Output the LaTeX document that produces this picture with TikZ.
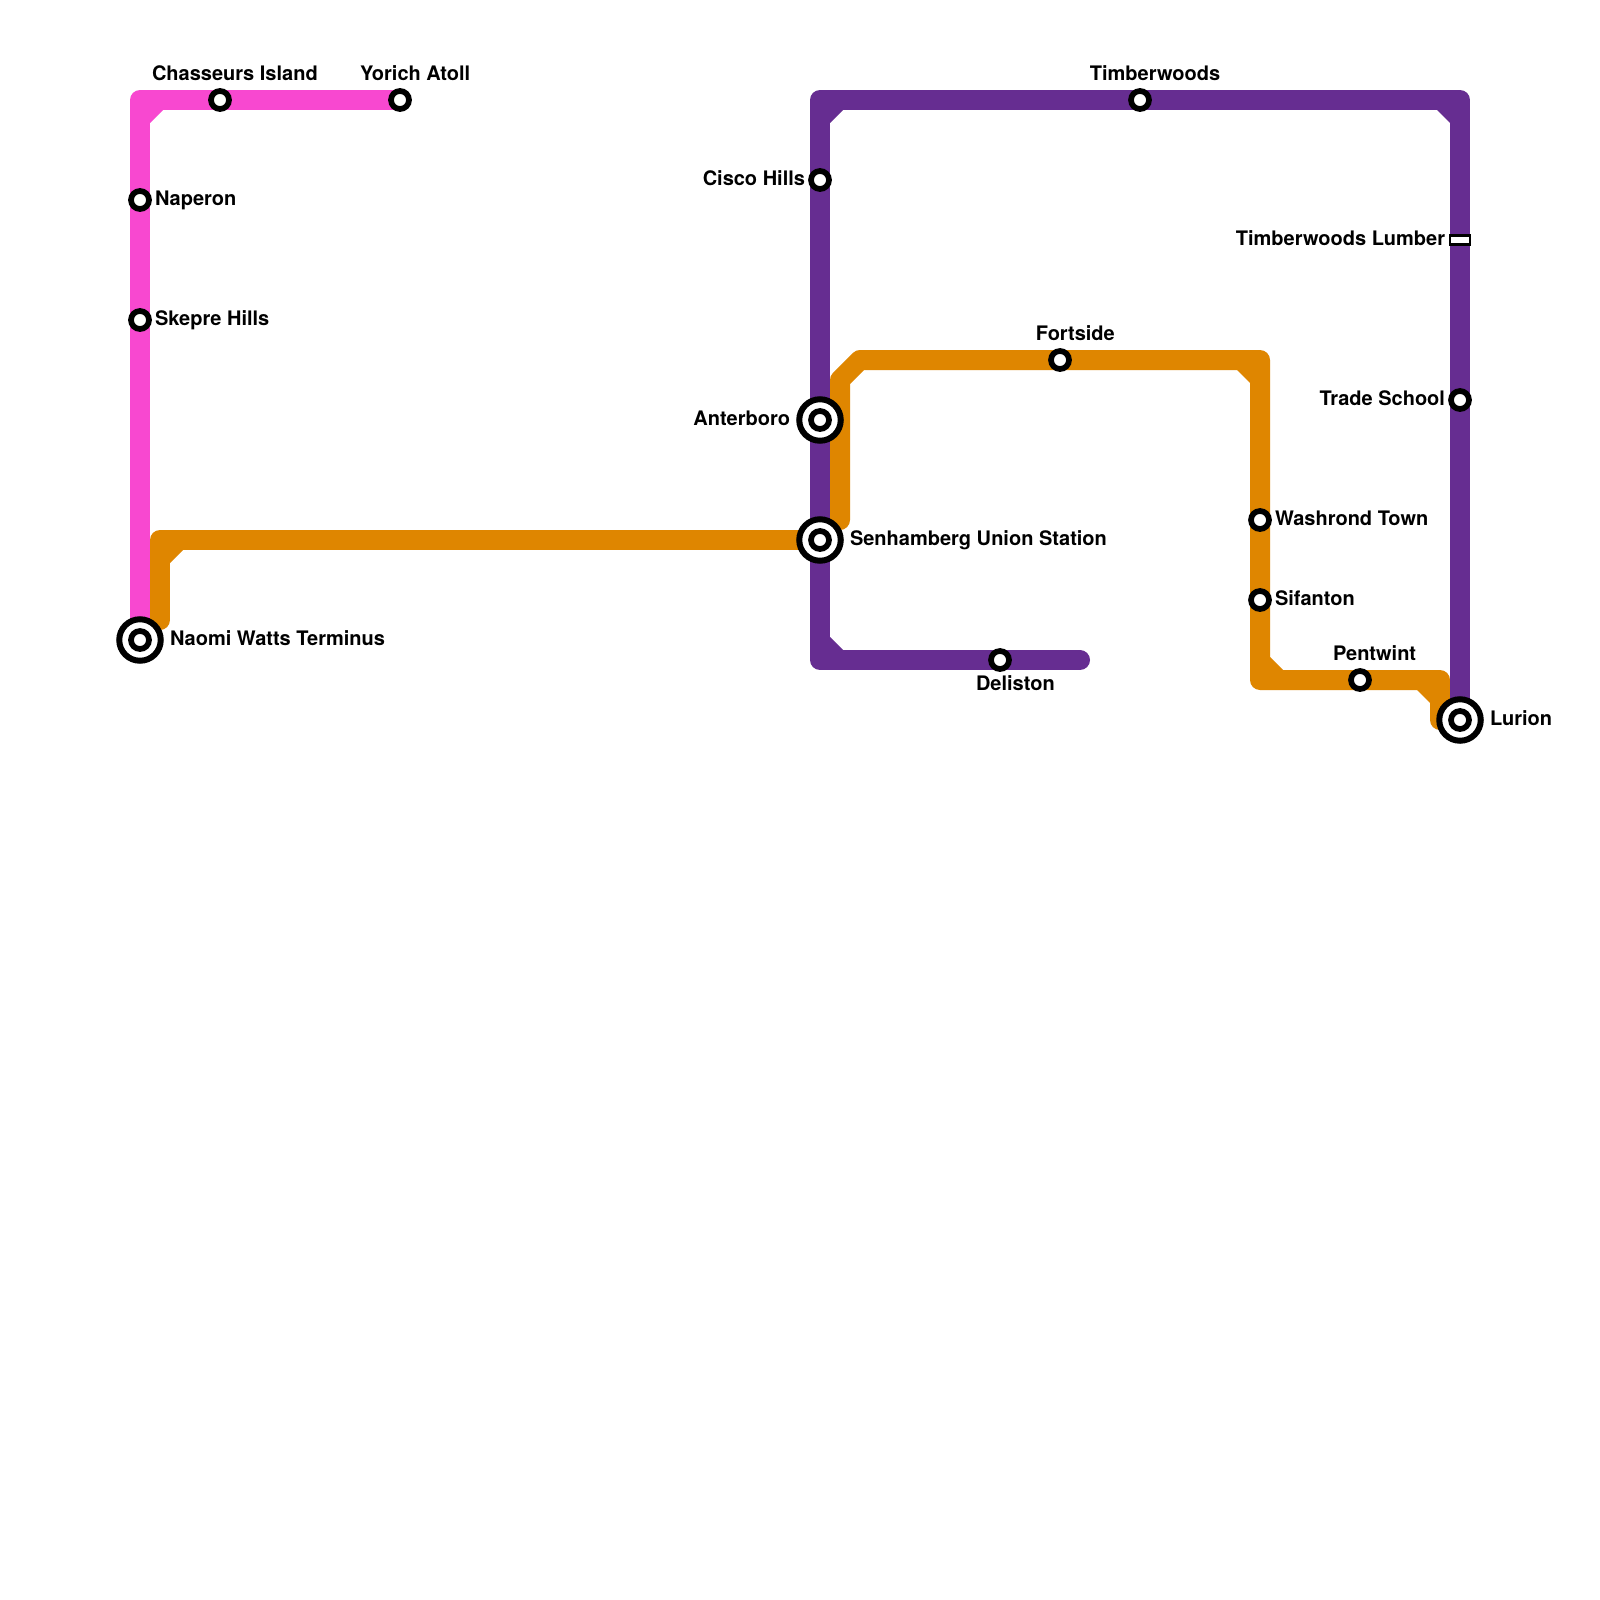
\documentclass[tikz,border=0pt]{standalone}
\usepackage{fontspec}
\setmainfont{TeX Gyre Heros}
\usetikzlibrary{backgrounds}
\definecolor{pinkline}{HTML}{F848D0}
\definecolor{purpleline}{HTML}{662D91}
\definecolor{orangeline}{HTML}{DF8600}
\tikzset{
  x=1pt,y=-1pt,
  stn/.style={circle,draw=black,fill=white,line width=5.7pt,minimum size=18pt,inner sep=0pt,outer sep=0pt},
  hub/.style={circle,draw=black,fill=white,line width=6pt,minimum size=41.5pt,inner sep=0pt,outer sep=0pt,label={[stn]center:{}}},
  rectstn/.style={rectangle,draw=black,fill=white,line width=2.2pt,minimum width=20pt,minimum height=9pt,inner sep=0pt,outer sep=0pt},
  lbl/.style={font=\fontsize{20}{24}\selectfont\bfseries,text=black,inner sep=0pt,outer sep=0pt},
  route/.style={line width=20pt,line cap=round,line join=round},
}
\begin{document}
\begin{tikzpicture}
\useasboundingbox (0,0) rectangle (1600,1600);
% stations
\node[stn] (chasseurs) at (220,100) {};
\node[stn] (yorich) at (400,100) {};
\node[stn] (naperon) at (140,200) {};
\node[stn] (skepre) at (140,320) {};
\node[hub] (naomi) at (140,640) {};
\node[stn] (cisco) at (820,180) {};
\node[hub] (anterboro) at (820,420) {};
\node[hub] (senhamberg) at (820,540) {};
\node[stn] (deliston) at (1000,660) {};
\node[stn] (timberwoods) at (1140,100) {};
\node[rectstn] (lumber) at (1460,240) {};
\node[stn] (trade) at (1460,400) {};
\node[hub] (lurion) at (1460,720) {};
\node[stn] (fortside) at (1060,360) {};
\node[stn] (washrond) at (1260,520) {};
\node[stn] (sifanton) at (1260,600) {};
\node[stn] (pentwint) at (1360,680) {};
% way points
\coordinate (p1) at (140,100);
\coordinate (o1) at (160,620);
\coordinate (o2) at (160,540);
\coordinate (o3) at (840,520);
\coordinate (o4) at (840,380);
\coordinate (o5) at (860,360);
\coordinate (o6) at (1260,360);
\coordinate (o7) at (1260,680);
\coordinate (o8) at (1440,680);
\coordinate (o9) at (1440,720);
\coordinate (v1) at (1080,660);
\coordinate (v2) at (820,660);
\coordinate (v3) at (820,100);
\coordinate (v4) at (1460,100);
\begin{scope}[on background layer]
\fill[white] (0,0) rectangle (1600,1600);
\draw[route,pinkline] (naomi.center) -- (skepre.center) -- (naperon.center) -- (p1) -- (chasseurs.center) -- (yorich.center);
\fill[pinkline] (150,110) -- (150,123) -- (163,110) -- cycle;
\draw[route,orangeline] (o1) -- (o2) -- (senhamberg.center);
\fill[orangeline] (170,550) -- (170,563) -- (183,550) -- cycle;
\draw[route,orangeline] (o3) -- (o4) -- (o5) -- (fortside.center) -- (o6) -- (washrond.center) -- (sifanton.center) -- (o7) -- (pentwint.center) -- (o8) -- (o9);
\fill[orangeline] (1250,370) -- (1250,383) -- (1237,370) -- cycle;
\fill[orangeline] (1270,670) -- (1270,657) -- (1283,670) -- cycle;
\fill[orangeline] (1430,690) -- (1430,703) -- (1417,690) -- cycle;
\draw[route,purpleline] (v1) -- (deliston.center) -- (v2) -- (senhamberg.center) -- (anterboro.center) -- (cisco.center) -- (v3) -- (timberwoods.center) -- (v4) -- (lumber.center) -- (trade.center) -- (lurion.center);
\fill[purpleline] (830,110) -- (830,123) -- (843,110) -- cycle;
\fill[purpleline] (830,650) -- (830,637) -- (843,650) -- cycle;
\fill[purpleline] (1450,110) -- (1450,123) -- (1437,110) -- cycle;
\end{scope}
% labels
\node[lbl,anchor=base west] (lchasseurs) at (152,80.2) {Chasseurs Island};
\node[lbl,anchor=base west] (lyorich) at (360,80.2) {Yorich Atoll};
\node[lbl,anchor=base west] (lnaperon) at (155,205.2) {Naperon};
\node[lbl,anchor=base west] (lskepre) at (155,325.2) {Skepre Hills};
\node[lbl,anchor=base west] (lnaomi) at (170,645.2) {Naomi Watts Terminus};
\node[lbl,anchor=base] (ltimber) at (1155,80.2) {Timberwoods};
\node[lbl,anchor=base east] (lcisco) at (805,185.2) {Cisco Hills};
\node[lbl,anchor=base east] (llumber) at (1445,245.2) {Timberwoods Lumber};
\node[lbl,anchor=base west] (lfortside) at (1035.8,340.2) {Fortside};
\node[lbl,anchor=base east] (lanterboro) at (790,425.2) {Anterboro};
\node[lbl,anchor=base west] (lsenhamberg) at (850,545.2) {Senhamberg Union Station};
\node[lbl,anchor=base east] (ltrade) at (1445,405.2) {Trade School};
\node[lbl,anchor=base west] (lwashrond) at (1275,525.2) {Washrond Town};
\node[lbl,anchor=base west] (lsifanton) at (1275,605.2) {Sifanton};
\node[lbl,anchor=base west] (lpentwint) at (1333,660.2) {Pentwint};
\node[lbl,anchor=base west] (llurion) at (1490,725.2) {Lurion};
\node[lbl,anchor=base west] (ldeliston) at (976,690.2) {Deliston};
\end{tikzpicture}
\end{document}
